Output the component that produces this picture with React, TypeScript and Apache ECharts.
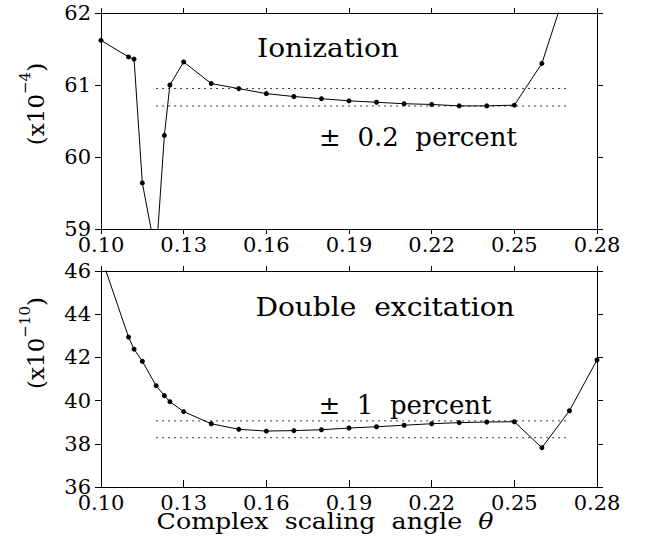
import React, { useEffect, useRef } from "react";
import * as echarts from "echarts";

// ---- data ----
const thetaTop = [0.10, 0.11, 0.112, 0.115, 0.12, 0.123, 0.125, 0.13, 0.14, 0.15, 0.16, 0.17, 0.18, 0.19, 0.20, 0.21, 0.22, 0.23, 0.24, 0.25, 0.26, 0.27];
const ionization = [61.62, 61.39, 61.36, 59.64, 58.63, 60.30, 61.00, 61.32, 61.02, 60.95, 60.88, 60.84, 60.81, 60.78, 60.76, 60.74, 60.73, 60.71, 60.71, 60.72, 61.30, 62.48];

const thetaBottom = [0.10, 0.11, 0.112, 0.115, 0.12, 0.123, 0.125, 0.13, 0.14, 0.15, 0.16, 0.17, 0.18, 0.19, 0.20, 0.21, 0.22, 0.23, 0.24, 0.25, 0.26, 0.27, 0.28];
const doubleExcitation = [46.68, 42.94, 42.38, 41.82, 40.69, 40.23, 39.95, 39.49, 38.93, 38.67, 38.59, 38.61, 38.65, 38.73, 38.79, 38.86, 38.93, 38.98, 39.01, 39.02, 37.82, 39.53, 41.88];

const bandTheta = [0.12, 0.27];
const ionizationBand = [60.952, 60.708];
const doubleBand = [39.06, 38.28];

const xTicks = { min: 0.10, max: 0.28, interval: 0.03 };
const yTopTicks = { min: 59, max: 62, interval: 1 };
const yBottomTicks = { min: 36, max: 46, interval: 2 };

const FONT = "DejaVu Serif";

function pairs(xs: number[], ys: number[]) {
  return xs.map((x, i) => [x, ys[i]]);
}

export default function App() {
  const ref = useRef<HTMLDivElement>(null);
  useEffect(() => {
    if (!ref.current) return;
    const chart = echarts.init(ref.current, null, { renderer: "svg" });
    const axisLine = { show: true, onZero: false, lineStyle: { color: "#000", width: 1 } };
    const xAxisBase = (gridIndex: number, position: string, showLabel: boolean, inside: boolean) => ({
      type: "value",
      gridIndex,
      position,
      min: xTicks.min,
      max: xTicks.max,
      interval: xTicks.interval,
      axisLine,
      axisTick: { show: true, inside, length: inside ? 7 : 5, lineStyle: { color: "#000", width: 1 } },
      axisLabel: {
        show: showLabel,
        color: "#000",
        fontFamily: FONT,
        fontSize: 21,
        lineHeight: 16,
        margin: 8,
        formatter: (v: number) => v.toFixed(2),
      },
      splitLine: { show: false },
    });
    const yAxisBase = (gridIndex: number, position: string, showLabel: boolean, t: any) => ({
      type: "value",
      gridIndex,
      position,
      min: t.min,
      max: t.max,
      interval: t.interval,
      axisLine,
      axisTick: { show: true, inside: false, length: 6, lineStyle: { color: "#000", width: 1 } },
      axisLabel: {
        show: showLabel,
        color: "#000",
        fontFamily: FONT,
        fontSize: 21,
        lineHeight: 16,
        margin: 10,
        formatter: (v: number) => String(Math.round(v)),
      },
      splitLine: { show: false },
    });
    const dataLine = (xi: number, yi: number, data: number[][]) => ({
      type: "line",
      xAxisIndex: xi,
      yAxisIndex: yi,
      data,
      clip: true,
      symbol: "circle",
      symbolSize: 5,
      itemStyle: { color: "#000" },
      lineStyle: { color: "#000", width: 1 },
      silent: true,
    });
    const bandLine = (xi: number, yi: number, v: number) => ({
      type: "line",
      xAxisIndex: xi,
      yAxisIndex: yi,
      data: bandTheta.map((t) => [t, v]),
      symbol: "none",
      lineStyle: { color: "#333", width: 1, type: [2, 4] },
      silent: true,
    });
    const textEl = (text: string, x: number, y: number, size: number, scaleX: number, extra: any = {}) => ({
      type: "text",
      x,
      y,
      scaleX,
      silent: true,
      style: {
        text,
        fill: "#000",
        fontFamily: FONT,
        fontSize: size,
        align: "center",
        verticalAlign: "middle",
        ...extra,
      },
    });
    const expLabel = (text: string, y: number) => ({
      type: "text",
      x: 36,
      y,
      rotation: Math.PI / 2,
      silent: true,
      style: {
        text,
        fill: "#000",
        fontFamily: FONT,
        fontSize: 23,
        lineHeight: 38,
        align: "center",
        verticalAlign: "middle",
        rich: { s: { fontFamily: FONT, fontSize: 15, lineHeight: 15, verticalAlign: "top" } },
      },
    });
    const option: any = {
      animation: false,
      backgroundColor: "#fff",
      grid: [
        { left: 101, top: 13, width: 496, height: 216 },
        { left: 101, top: 271, width: 496, height: 216 },
      ],
      xAxis: [
        xAxisBase(0, "bottom", true, false),
        xAxisBase(0, "top", false, false),
        xAxisBase(1, "bottom", true, true),
        xAxisBase(1, "top", false, false),
      ],
      yAxis: [
        yAxisBase(0, "left", true, yTopTicks),
        yAxisBase(0, "right", false, yTopTicks),
        yAxisBase(1, "left", true, yBottomTicks),
        yAxisBase(1, "right", false, yBottomTicks),
      ],
      series: [
        bandLine(0, 0, ionizationBand[0]),
        bandLine(0, 0, ionizationBand[1]),
        dataLine(0, 0, pairs(thetaTop, ionization)),
        bandLine(2, 2, doubleBand[0]),
        bandLine(2, 2, doubleBand[1]),
        dataLine(2, 2, pairs(thetaBottom, doubleExcitation)),
      ],
      graphic: [
        textEl("Ionization", 328, 48, 26, 1.08),
        textEl("±  0.2  percent", 418, 137, 26, 1.0),
        textEl("Double  excitation", 385, 307, 26, 1.08),
        textEl("±  1  percent", 405, 405, 26, 1.0),
        textEl("Complex  scaling  angle  {i|θ}", 325, 522, 22, 1.15, {
          lineHeight: 18,
          rich: { i: { fontStyle: "italic", fontFamily: FONT, fontSize: 22, lineHeight: 18 } },
        }),
        expLabel("(x10{s|−4})", 104),
        expLabel("(x10{s|−10})", 343),
      ],
    };
    chart.setOption(option);
    return () => chart.dispose();
  }, []);
  return (
    <div
      ref={ref}
      style={{ position: "absolute", left: 0, top: 0, width: 649, height: 550, background: "#fff" }}
    />
  );
}
